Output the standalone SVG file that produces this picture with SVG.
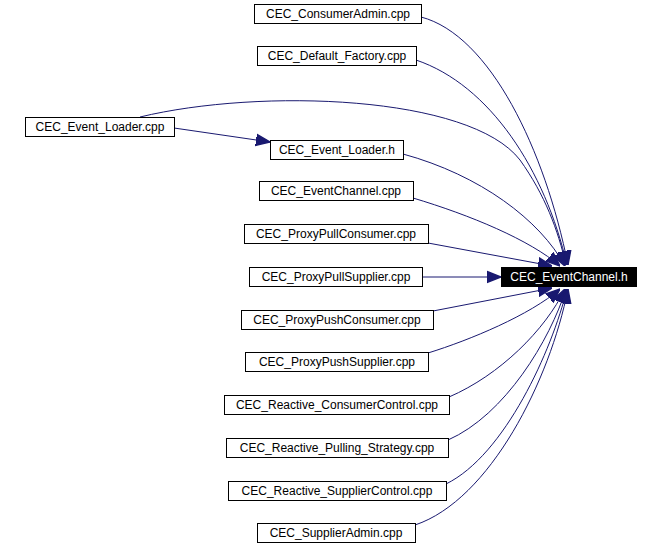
<svg xmlns="http://www.w3.org/2000/svg" width="662" height="545" viewBox="0 0 662 545">
<style>
.n rect{fill:#fff;stroke:#000;stroke-width:1}
text{font-family:"Liberation Sans",Arial,sans-serif;font-size:12px;text-anchor:middle}
.e path{fill:none;stroke:#191970;stroke-width:1}
</style>
<defs><marker id="a" viewBox="0 0 10 10" refX="10" refY="5" markerWidth="14" markerHeight="14" markerUnits="userSpaceOnUse" orient="auto"><path d="M0,1L10,5L0,9z" fill="#191970" stroke="#191970"/></marker></defs>
<rect width="662" height="545" fill="#fff"/>
<g class="e">
<path marker-end="url(#a)" d="M421,17 C490,35 545,150 568,265"/>
<path marker-end="url(#a)" d="M416,60 C490,85 545,170 567,265"/>
<path marker-end="url(#a)" d="M140,117 C260,88 470,95 520,160 C545,195 558,230 566,265"/>
<path marker-end="url(#a)" d="M174,128 L270,142"/>
<path marker-end="url(#a)" d="M403,154 C480,175 540,220 565,266"/>
<path marker-end="url(#a)" d="M413,198 C470,215 530,240 560,266"/>
<path marker-end="url(#a)" d="M428,243 L552,266"/>
<path marker-end="url(#a)" d="M422,277 L501,277"/>
<path marker-end="url(#a)" d="M433,311 L552,288"/>
<path marker-end="url(#a)" d="M428,353 C470,340 530,315 560,289"/>
<path marker-end="url(#a)" d="M449,397 C500,375 545,330 565,289"/>
<path marker-end="url(#a)" d="M448,440 C505,415 550,340 566,289"/>
<path marker-end="url(#a)" d="M446,484 C505,455 552,350 567,289"/>
<path marker-end="url(#a)" d="M415,525 C490,500 550,380 568,289"/>
</g>
<g class="n" id="n1"><rect x="254.5" y="4.5" width="167" height="19"/><text x="338" y="18">CEC_ConsumerAdmin.cpp</text></g>
<g class="n" id="n2"><rect x="257.5" y="46.5" width="159" height="19"/><text x="337" y="60">CEC_Default_Factory.cpp</text></g>
<g class="n" id="n3"><rect x="25.5" y="117.5" width="149" height="19"/><text x="100" y="131">CEC_Event_Loader.cpp</text></g>
<g class="n" id="n4"><rect x="270.5" y="140.5" width="133" height="19"/><text x="337" y="154">CEC_Event_Loader.h</text></g>
<g class="n" id="n5"><rect x="259.5" y="181.5" width="154" height="19"/><text x="336" y="195">CEC_EventChannel.cpp</text></g>
<g class="n" id="n6"><rect x="244.5" y="224.5" width="184" height="19"/><text x="336" y="238">CEC_ProxyPullConsumer.cpp</text></g>
<g class="n" id="n7"><rect x="249.5" y="267.5" width="173" height="19"/><text x="336" y="281">CEC_ProxyPullSupplier.cpp</text></g>
<g class="n" id="n8"><rect x="241.5" y="310.5" width="192" height="19"/><text x="337" y="324">CEC_ProxyPushConsumer.cpp</text></g>
<g class="n" id="n9"><rect x="245.5" y="352.5" width="183" height="19"/><text x="337" y="366">CEC_ProxyPushSupplier.cpp</text></g>
<g class="n" id="n10"><rect x="224.5" y="395.5" width="225" height="19"/><text x="337" y="409">CEC_Reactive_ConsumerControl.cpp</text></g>
<g class="n" id="n11"><rect x="226.5" y="438.5" width="222" height="19"/><text x="337" y="452">CEC_Reactive_Pulling_Strategy.cpp</text></g>
<g class="n" id="n12"><rect x="228.5" y="481.5" width="218" height="19"/><text x="337" y="495">CEC_Reactive_SupplierControl.cpp</text></g>
<g class="n" id="n13"><rect x="257.5" y="523.5" width="158" height="19"/><text x="336" y="537">CEC_SupplierAdmin.cpp</text></g>
<g id="target"><rect x="501" y="267" width="136" height="20" fill="#000"/><text x="569" y="281" fill="#fff">CEC_EventChannel.h</text></g>
</svg>
